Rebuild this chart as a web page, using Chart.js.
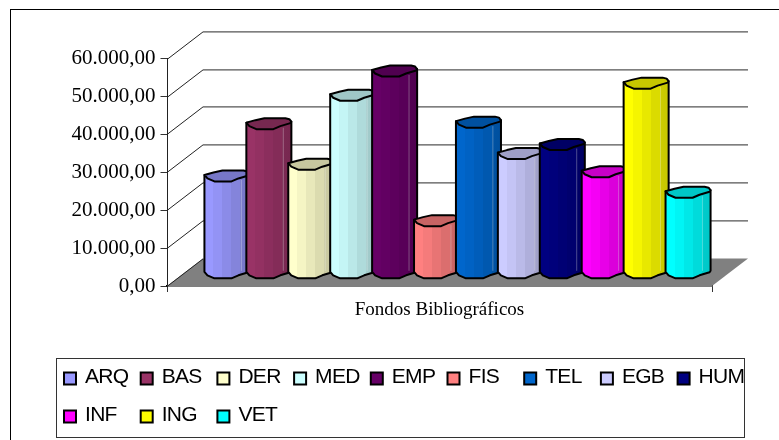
<!DOCTYPE html>
<html>
<head>
<meta charset="utf-8">
<style>
  html, body { margin: 0; padding: 0; background: #fff; overflow: hidden; }
  canvas { position: absolute; left: 0; top: 0; }
</style>
<script src="https://cdn.jsdelivr.net/npm/chart.js@4/dist/chart.umd.min.js"></script>
</head>
<body>
<canvas id="Chart" width="779" height="440"></canvas>
<script>
var categories = ['Fondos Bibliográficos'];
var seriesNames = ['ARQ', 'BAS', 'DER', 'MED', 'EMP', 'FIS', 'TEL', 'EGB', 'HUM', 'INF', 'ING', 'VET'];
var seriesValues = [25700, 39500, 28800, 47000, 53400, 13900, 39900, 31600, 34000, 26800, 50200, 21400];
var seriesColors = ['#9999FF', '#993366', '#FFFFCC', '#CCFFFF', '#660066', '#FF8080', '#0066CC', '#CCCCFF', '#000080', '#FF00FF', '#FFFF00', '#00FFFF'];

// depth of the fake 3d box, and where the columns stand inside it
var DEPTH_X = 36, DEPTH_Y = -27.6;
var BAR_X = 18, BAR_Y = -12.7;

function shade(hex, k) {
  var n = parseInt(hex.slice(1), 16);
  return 'rgb(' + Math.round((n >> 16) * k) + ',' + Math.round(((n >> 8) & 255) * k) + ',' + Math.round((n & 255) * k) + ')';
}

// draws the box behind the columns
var wallPlugin = {
  id: 'walls',
  beforeDatasetsDraw: function (chart) {
    var ctx = chart.ctx, y = chart.scales.y, a = chart.chartArea;
    ctx.save();
    ctx.beginPath();
    ctx.moveTo(a.left, a.bottom);
    ctx.lineTo(a.right, a.bottom);
    ctx.lineTo(a.right + DEPTH_X, a.bottom + DEPTH_Y);
    ctx.lineTo(a.left + DEPTH_X, a.bottom + DEPTH_Y);
    ctx.closePath();
    ctx.fillStyle = '#808080';
    ctx.fill();
    y.ticks.forEach(function (t) {
      var p = Math.round(y.getPixelForValue(t.value)) + 0.5;
      ctx.lineWidth = 1;
      ctx.strokeStyle = '#222';
      ctx.beginPath();
      ctx.moveTo(a.left, p);
      ctx.lineTo(a.left + DEPTH_X, p + DEPTH_Y);
      ctx.stroke();
      if (t.value > 0) {
        ctx.lineWidth = 1.4;
        ctx.strokeStyle = '#555';
        ctx.beginPath();
        ctx.moveTo(a.left + DEPTH_X, p + DEPTH_Y);
        ctx.lineTo(a.right + DEPTH_X, p + DEPTH_Y);
        ctx.stroke();
      }
    });
    ctx.restore();
  }
};

function poly(ctx, pts) {
  pts.forEach(function (p, i) {
    if (i) ctx.lineTo(p[0], p[1]); else ctx.moveTo(p[0], p[1]);
  });
}

// columns, placed from the bar elements the library laid out
var cylinderPlugin = {
  id: 'cylinders',
  afterDatasetsDraw: function (chart) {
    var ctx = chart.ctx;
    chart.data.datasets.forEach(function (ds, i) {
      var el = chart.getDatasetMeta(i).data[0];
      var w = el.width, x0 = el.x + BAR_X - w / 2;
      var top = el.y + BAR_Y, bot = el.base + BAR_Y;
      var front = function (c) {
        return [[x0, c - 1], [x0 + 3, c + 2.5], [x0 + 10, c + 5.5], [x0 + 27, c + 5.5], [x0 + 34, c + 2.5], [x0 + w - 1, c - 0.5], [x0 + w, c - 2]];
      };
      var back = [[x0 + w, top - 2], [x0 + w - 2, top - 4.5], [x0 + w - 6, top - 5.5], [x0 + 18, top - 5.5], [x0 + 9, top - 3.5], [x0, top - 1]];
      var g = ctx.createLinearGradient(x0, 0, x0 + w, 0);
      var base = ds.color;
      [[0, 1], [0.2, 1], [0.2, 0.96], [0.4, 0.96], [0.4, 0.91], [0.6, 0.91], [0.6, 0.86], [0.8, 0.86], [0.8, 0.8], [1, 0.78]].forEach(function (s) {
        g.addColorStop(s[0], shade(base, s[1]));
      });
      ctx.save();
      ctx.lineJoin = 'round';
      ctx.strokeStyle = '#000';
      ctx.lineWidth = 2;
      ctx.beginPath();
      poly(ctx, front(bot));
      ctx.lineTo(x0 + w, top - 2);
      ctx.lineTo(x0, top - 1);
      ctx.closePath();
      ctx.fillStyle = g;
      ctx.fill();
      ctx.stroke();
      // faint highlight on the right of the column
      ctx.lineWidth = 1;
      ctx.strokeStyle = 'rgba(255,255,255,0.3)';
      ctx.beginPath();
      ctx.moveTo(x0 + w * 0.82, top + 4);
      ctx.lineTo(x0 + w * 0.82, bot - 2);
      ctx.stroke();
      // top face
      ctx.lineWidth = 2;
      ctx.strokeStyle = '#000';
      ctx.beginPath();
      poly(ctx, front(top).concat(back));
      ctx.closePath();
      ctx.fillStyle = shade(base, 0.78);
      ctx.fill();
      ctx.stroke();
      ctx.restore();
    });
  }
};

// outer frame and the boxed legend with fixed columns
var framePlugin = {
  id: 'frame',
  afterDraw: function (chart) {
    var ctx = chart.ctx;
    ctx.save();
    ctx.strokeStyle = '#000';
    ctx.lineWidth = 1;
    ctx.strokeRect(10.5, 9.5, 800, 460);
    ctx.strokeStyle = '#333';
    ctx.strokeRect(56.5, 358.5, 688, 79);
    ctx.font = '21px "Liberation Sans"';
    ctx.letterSpacing = '-0.7px';
    ctx.textBaseline = 'middle';
    seriesNames.forEach(function (name, i) {
      var x = 64 + (i % 9) * 76.7, y = i < 9 ? 372.5 : 410.5;
      ctx.fillStyle = seriesColors[i];
      ctx.fillRect(x, y, 12, 12);
      ctx.lineWidth = 2;
      ctx.strokeStyle = '#000';
      ctx.strokeRect(x, y, 12, 12);
      ctx.fillStyle = '#000';
      ctx.fillText(name, x + 21, y + 5);
    });
    ctx.restore();
  }
};

var ctx = document.getElementById('Chart').getContext('2d');
var chart = new Chart(ctx, {
  type: 'bar',
  data: {
    labels: categories,
    datasets: seriesNames.map(function (name, i) {
      return {
        label: name,
        data: [seriesValues[i]],
        color: seriesColors[i],
        backgroundColor: 'rgba(0,0,0,0)',
        borderWidth: 0
      };
    })
  },
  plugins: [wallPlugin, cylinderPlugin, framePlugin],
  options: {
    responsive: false,
    animation: false,
    events: [],
    layout: { padding: { left: 60, right: 67, top: 58.7, bottom: 0 } },
    datasets: { bar: { categoryPercentage: 0.923, barPercentage: 1.074 } },
    plugins: { legend: { display: false }, tooltip: { enabled: false } },
    scales: {
      x: {
        afterFit: function (s) { s.height = 154; s.paddingLeft = 0; s.paddingRight = 0; },
        grid: { display: true, drawOnChartArea: false, tickLength: 6, color: '#333' },
        border: { display: true, color: '#000', width: 1.5 },
        ticks: { color: '#000', padding: 7, maxRotation: 0, font: { family: 'Liberation Serif', size: 19 } }
      },
      y: {
        min: 0,
        max: 60000,
        afterFit: function (s) { s.width = 107; s.paddingTop = 0; s.paddingBottom = 0; },
        grid: { display: true, drawOnChartArea: false, tickLength: 6.5, color: '#333' },
        border: { display: true, color: '#222', width: 1 },
        ticks: {
          stepSize: 10000,
          color: '#000',
          padding: 5,
          font: { family: 'Liberation Serif', size: 21 },
          callback: function (v) {
            return v.toLocaleString('de-DE', { minimumFractionDigits: 2, maximumFractionDigits: 2 });
          }
        }
      }
    }
  }
});
</script>
</body>
</html>
